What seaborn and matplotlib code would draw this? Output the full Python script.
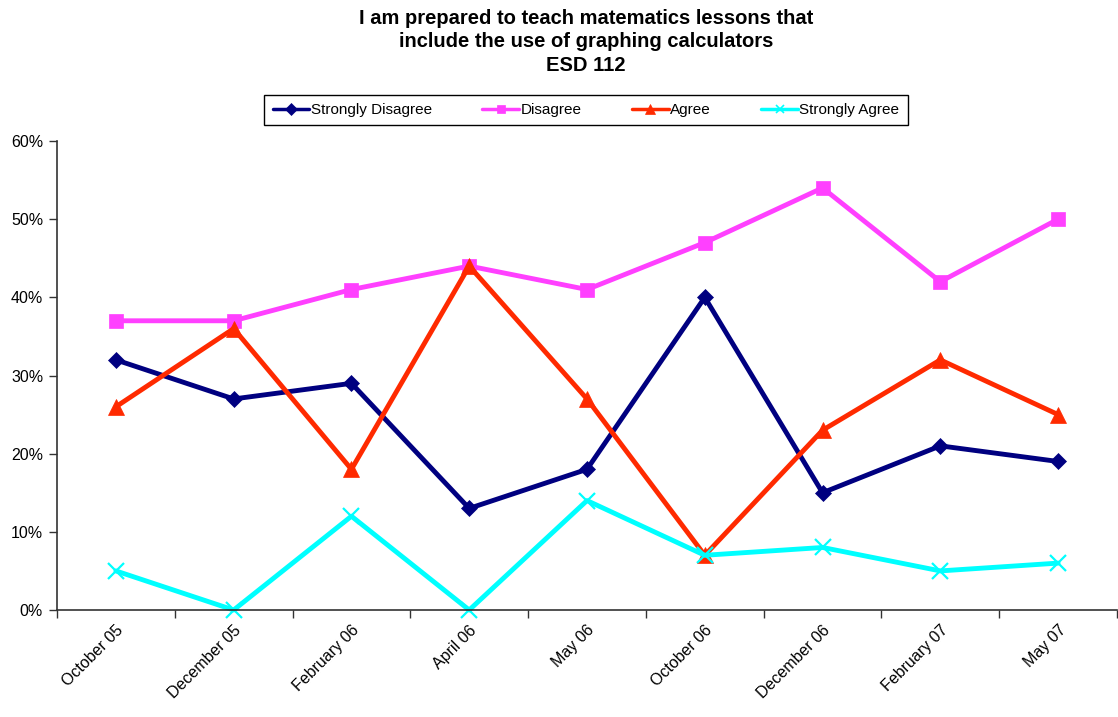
import matplotlib
matplotlib.use("Agg")
import matplotlib.pyplot as plt
import seaborn as sns
import numpy as np
import pandas as pd
from matplotlib.ticker import FixedLocator, PercentFormatter
from matplotlib.lines import Line2D

sns.set_theme(style="white")
plt.rcParams['font.family'] = ['Liberation Sans', 'DejaVu Sans']
plt.rcParams['text.color'] = 'black'
plt.rcParams['xtick.color'] = 'black'
plt.rcParams['ytick.color'] = 'black'

categories = ["October 05", "December 05", "February 06", "April 06", "May 06",
              "October 06", "December 06", "February 07", "May 07"]
strongly_disagree = [32, 27, 29, 13, 18, 40, 15, 21, 19]
disagree = [37, 37, 41, 44, 41, 47, 54, 42, 50]
agree = [26, 36, 18, 44, 27, 7, 23, 32, 25]
strongly_agree = [5, 0, 12, 0, 14, 7, 8, 5, 6]

series = [
    ("Strongly Disagree", strongly_disagree, "#000080", "D", 8),
    ("Disagree", disagree, "#FF40FF", "s", 10),
    ("Agree", agree, "#FF2A00", "^", 12),
    ("Strongly Agree", strongly_agree, "#00FFFF", "x", 12),
]

fig = plt.figure(figsize=(11.18, 7.17), dpi=100)
ax = fig.add_axes([57/1118, 1-610/717, (1117-57)/1118, (610-141)/717])

pos = np.arange(len(categories))
proxies = []
for name, vals, color, marker, ms in series:
    df = pd.DataFrame({"x": pos, "y": vals})
    sns.lineplot(data=df, x="x", y="y", ax=ax, color=color, linewidth=3.5,
                 marker=marker, markersize=ms, markeredgecolor=color,
                 markerfacecolor=color, markeredgewidth=1.6 if marker == "x" else 0.5,
                 clip_on=False)
    proxies.append(Line2D([], [], color=color, linewidth=2.5, marker=marker,
                          markersize=6 if marker != "^" else 7,
                          markeredgecolor=color, markerfacecolor=color,
                          markeredgewidth=1.2 if marker == "x" else 0.5, label=name))

ax.set_xlim(-0.5, len(categories) - 0.5)
ax.set_ylim(0, 60)
ax.set_yticks(np.arange(0, 61, 10))
ax.yaxis.set_major_formatter(PercentFormatter(decimals=0))
ax.xaxis.set_major_locator(FixedLocator(np.arange(-0.5, len(categories), 1.0)))
ax.xaxis.set_major_formatter(plt.NullFormatter())
ax.xaxis.set_minor_locator(FixedLocator(pos))
ax.set_xticklabels(categories, minor=True, rotation=45, ha="right",
                   rotation_mode="anchor", fontsize=11.5)
ax.tick_params(axis="x", which="minor", length=0, pad=9)
ax.tick_params(axis="x", which="major", length=6, width=1, color="#333333", direction="out", bottom=True)
ax.tick_params(axis="y", length=6, width=1, color="#333333", direction="out", left=True, labelsize=11.5, pad=4)
ax.set_xlabel("")
ax.set_ylabel("")
for s in ["top", "right"]:
    ax.spines[s].set_visible(False)
for s in ["left", "bottom"]:
    ax.spines[s].set_color("#333333")
    ax.spines[s].set_linewidth(1.2)
ax.grid(False)

leg = fig.legend(handles=proxies, ncol=4, loc="center", bbox_to_anchor=(586/1118, 1-110/717),
                 frameon=True, fancybox=False, edgecolor="black", framealpha=1,
                 fontsize=11, handlelength=2.4, handletextpad=0.1, columnspacing=3.3,
                 borderpad=0.55)
leg.get_frame().set_linewidth(1.0)

fig.suptitle("I am prepared to teach matematics lessons that\ninclude the use of graphing calculators\nESD 112",
             x=586/1118, y=0.988, fontsize=14.5, fontweight="bold", linespacing=1.3)

fig.savefig("out.png", dpi=100)
